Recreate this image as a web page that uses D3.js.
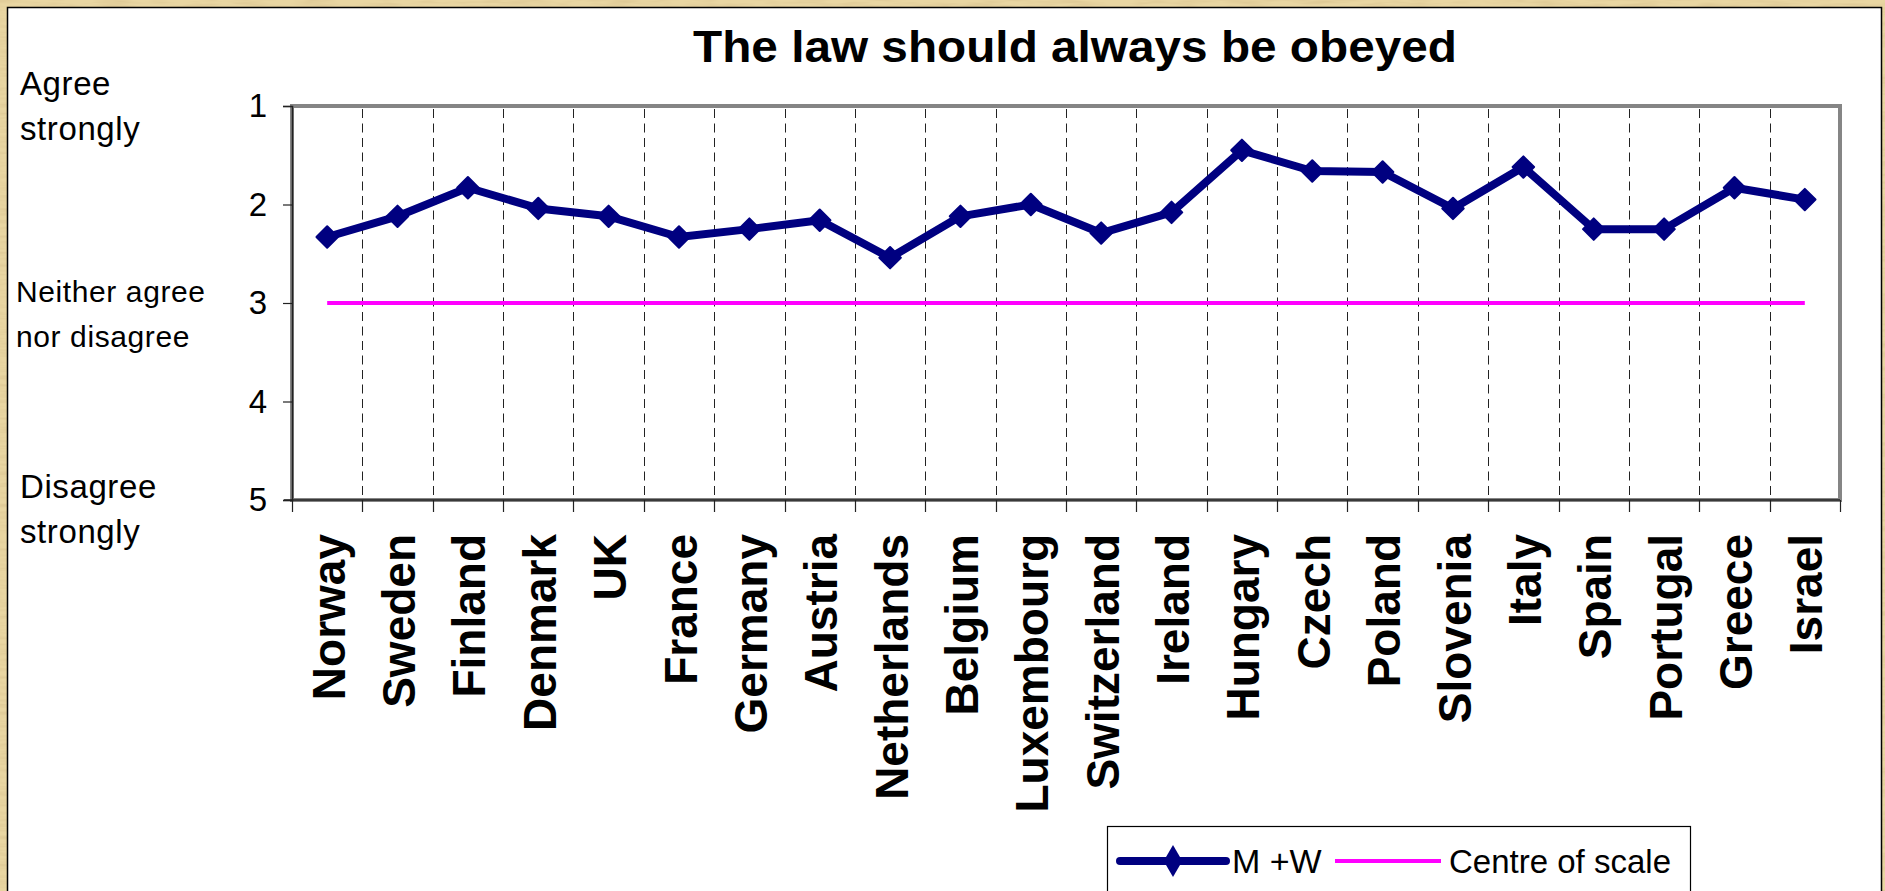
<!DOCTYPE html>
<html>
<head>
<meta charset="utf-8">
<script src="https://cdn.jsdelivr.net/npm/d3@7"></script>
<style>
  html, body { margin: 0; padding: 0; background: #fff; overflow: hidden; }
  svg { display: block; }
</style>
</head>
<body>
<div id="chart"></div>
<script>
// chart data
var countries = ['Norway', 'Sweden', 'Finland', 'Denmark', 'UK', 'France', 'Germany', 'Austria',
    'Netherlands', 'Belgium', 'Luxembourg', 'Switzerland', 'Ireland', 'Hungary', 'Czech', 'Poland',
    'Slovenia', 'Italy', 'Spain', 'Portugal', 'Greece', 'Israel'];
var mwValues = [2.33, 2.12, 1.83, 2.04, 2.12, 2.33, 2.25, 2.16, 2.54, 2.12, 2.00, 2.29,
    2.08, 1.45, 1.66, 1.67, 2.04, 1.62, 2.25, 2.25, 1.83, 1.95];
var centreValues = [3, 3, 3, 3, 3, 3, 3, 3, 3, 3, 3, 3, 3, 3, 3, 3, 3, 3, 3, 3, 3, 3];
var yTicks = [1, 2, 3, 4, 5];
var scaleValues = [1, 3, 5];
var scaleLabels = [['Agree', 'strongly'], ['Neither agree', 'nor disagree'], ['Disagree', 'strongly']];
var seriesNames = ['M +W', 'Centre of scale'];
var title = 'The law should always be obeyed';

var W = 1885, H = 891;
var font = '"Liberation Sans", Arial, Helvetica, sans-serif';
var plot = { left: 292, top: 106, right: 1840, bottom: 500 };

var svg = d3.select('#chart').append('svg')
    .attr('width', W)
    .attr('height', H)
    .attr('viewBox', [0, 0, W, H]);

// beige paper frame
var defs = svg.append('defs');
var paper = defs.append('filter').attr('id', 'paper')
    .attr('x', 0).attr('y', 0).attr('width', '100%').attr('height', '100%');
paper.append('feTurbulence')
    .attr('type', 'fractalNoise')
    .attr('baseFrequency', '0.03 0.25')
    .attr('numOctaves', 3)
    .attr('seed', 4)
    .attr('result', 'noise');
paper.append('feColorMatrix')
    .attr('in', 'noise')
    .attr('type', 'matrix')
    .attr('values', '0 0 0 0 0.70  0 0 0 0 0.55  0 0 0 0 0.28  1.4 0 0 0 -0.55');

svg.append('rect').attr('width', W).attr('height', H).attr('fill', '#e9d6a2');
svg.append('rect').attr('width', W).attr('height', H).attr('filter', 'url(#paper)');

svg.append('rect')
    .attr('x', 7.5).attr('y', 7.5)
    .attr('width', 1874).attr('height', H + 10)
    .attr('fill', '#fff')
    .attr('stroke', '#000')
    .attr('stroke-width', 1.5);

// scales
var x = d3.scaleBand().domain(countries).range([plot.left, plot.right]);
var y = d3.scaleLinear().domain([1, 5]).range([plot.top, plot.bottom]);
var cx = function (d) { return x(d) + x.bandwidth() / 2; };

// title
svg.append('text')
    .attr('x', 693).attr('y', 62)
    .attr('font-family', font)
    .attr('font-weight', 'bold')
    .attr('font-size', 45)
    .attr('textLength', 764)
    .attr('lengthAdjust', 'spacingAndGlyphs')
    .text(title);

// plot frame (gray, Excel style)
svg.append('rect')
    .attr('x', plot.left).attr('y', plot.top)
    .attr('width', plot.right - plot.left).attr('height', plot.bottom - plot.top)
    .attr('fill', '#fff')
    .attr('stroke', '#858585')
    .attr('stroke-width', 4);

// dashed vertical gridlines between categories
svg.append('g').selectAll('line')
    .data(countries.slice(1))
    .enter().append('line')
    .attr('x1', function (d) { return Math.round(x(d)) + 0.5; })
    .attr('x2', function (d) { return Math.round(x(d)) + 0.5; })
    .attr('y1', plot.top + 3)
    .attr('y2', plot.bottom)
    .attr('stroke', '#222')
    .attr('stroke-width', 1)
    .attr('stroke-dasharray', '9,5.5');

// y axis
var yAxis = d3.axisLeft(y).tickValues(yTicks).tickSize(9).tickPadding(16).tickFormat(d3.format('d'));
var gy = svg.append('g').attr('transform', 'translate(' + plot.left + ',0)').call(yAxis);
gy.select('.domain').attr('stroke', '#222').attr('stroke-width', 1.5);
gy.selectAll('.tick line').attr('stroke', '#222').attr('stroke-width', 1.2);
gy.selectAll('.tick text')
    .attr('font-family', font)
    .attr('font-size', 33)
    .attr('fill', '#000');

// x axis ticks at category boundaries
var boundaries = countries.map(function (d) { return x(d); }).concat([plot.right]);
svg.append('line')
    .attr('x1', plot.left - 8).attr('x2', plot.right)
    .attr('y1', plot.bottom).attr('y2', plot.bottom)
    .attr('stroke', '#222').attr('stroke-width', 1.5);
svg.append('g').selectAll('line')
    .data(boundaries)
    .enter().append('line')
    .attr('x1', function (d) { return Math.round(d) + 0.5; })
    .attr('x2', function (d) { return Math.round(d) + 0.5; })
    .attr('y1', plot.bottom)
    .attr('y2', plot.bottom + 12)
    .attr('stroke', '#222')
    .attr('stroke-width', 1.2);

// category labels, rotated
svg.append('g').selectAll('text')
    .data(countries)
    .enter().append('text')
    .attr('transform', function (d) { return 'translate(' + (cx(d) + 1) + ',534) rotate(-90)'; })
    .attr('text-anchor', 'end')
    .attr('dy', '0.36em')
    .attr('font-family', font)
    .attr('font-weight', 'bold')
    .attr('font-size', 46)
    .text(function (d) { return d; });

// scale labels on the left
var labelLayout = [{ x: 20, dy: -11, size: 33 }, { x: 16, dy: -1, size: 30 }, { x: 20, dy: -2, size: 33 }];
scaleLabels.forEach(function (lines, i) {
    var t = svg.append('text')
        .attr('font-family', font)
        .attr('font-size', labelLayout[i].size)
        .attr('letter-spacing', 0.6)
        .attr('fill', '#000');
    lines.forEach(function (line, j) {
        t.append('tspan')
            .attr('x', labelLayout[i].x)
            .attr('y', y(scaleValues[i]) + labelLayout[i].dy + j * 45)
            .text(line);
    });
});

// centre of scale line
var line = d3.line()
    .x(function (d, i) { return cx(countries[i]); })
    .y(function (d) { return y(d); });

svg.append('path')
    .datum(centreValues)
    .attr('d', line)
    .attr('fill', 'none')
    .attr('stroke', '#ff00ff')
    .attr('stroke-width', 4);

// M+W series
svg.append('path')
    .datum(mwValues)
    .attr('d', line)
    .attr('fill', 'none')
    .attr('stroke', '#000080')
    .attr('stroke-width', 8)
    .attr('stroke-linejoin', 'round');

var diamond = d3.symbol().type(d3.symbolSquare).size(230);
svg.append('g').selectAll('path')
    .data(mwValues)
    .enter().append('path')
    .attr('transform', function (d, i) {
        return 'translate(' + cx(countries[i]) + ',' + y(d) + ') rotate(45)';
    })
    .attr('d', diamond)
    .attr('fill', '#000080')
    .attr('stroke', '#000080')
    .attr('stroke-width', 2)
    .attr('stroke-linejoin', 'round');

// legend
var lg = svg.append('g');
lg.append('rect')
    .attr('x', 1107.5).attr('y', 826.5)
    .attr('width', 583).attr('height', 90)
    .attr('fill', '#fff')
    .attr('stroke', '#000')
    .attr('stroke-width', 1.2);
var legendY = 861;
lg.append('line')
    .attr('x1', 1120).attr('x2', 1226)
    .attr('y1', legendY).attr('y2', legendY)
    .attr('stroke', '#000080')
    .attr('stroke-width', 8)
    .attr('stroke-linecap', 'round');
lg.append('path')
    .attr('transform', 'translate(1173,' + legendY + ')')
    .attr('d', d3.symbol().type(d3.symbolDiamond).size(300))
    .attr('fill', '#000080');
lg.append('text')
    .attr('x', 1232).attr('y', legendY)
    .attr('dy', '0.36em')
    .attr('font-family', font)
    .attr('font-size', 34)
    .text(seriesNames[0]);
lg.append('line')
    .attr('x1', 1335).attr('x2', 1441)
    .attr('y1', legendY).attr('y2', legendY)
    .attr('stroke', '#ff00ff')
    .attr('stroke-width', 4);
lg.append('text')
    .attr('x', 1449).attr('y', legendY)
    .attr('dy', '0.36em')
    .attr('font-family', font)
    .attr('font-size', 34)
    .attr('textLength', 222)
    .attr('lengthAdjust', 'spacingAndGlyphs')
    .text(seriesNames[1]);
</script>
</body>
</html>
